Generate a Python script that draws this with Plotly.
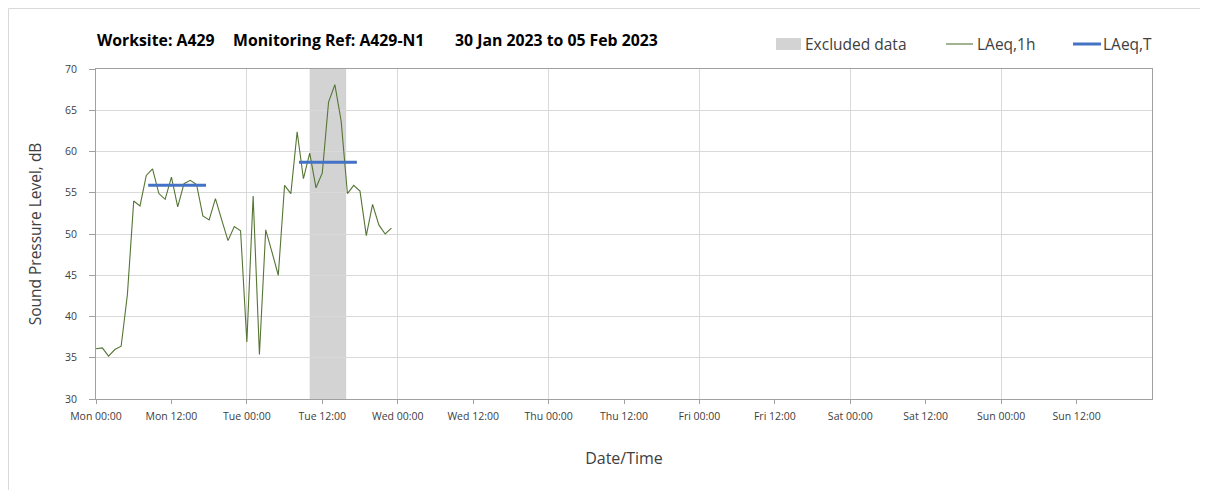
import plotly.graph_objects as go

# ---- data ----
hours = list(range(48))  # hours since Mon 30 Jan 2023 00:00
laeq_1h = [36.1, 36.2, 35.2, 36.0, 36.4, 42.7, 54.0, 53.4, 57.1, 57.9,
           54.9, 54.2, 56.9, 53.3, 56.1, 56.5, 56.0, 52.2, 51.7, 54.3,
           51.7, 49.2, 50.9, 50.4, 36.9, 54.6, 35.4, 50.5, 47.8, 45.0,
           55.9, 54.9, 62.4, 56.7, 59.8, 55.6, 57.4, 66.0, 68.1, 63.7,
           54.9, 55.9, 55.2, 49.8, 53.6, 51.1, 50.0, 50.7]

laeq_t_start = [8.3, 32.3]
laeq_t_end = [17.5, 41.5]
laeq_t_value = [55.9, 58.7]

excluded_start = [34.0]
excluded_end = [39.8]

tick_hours = [0, 12, 24, 36, 48, 60, 72, 84, 96, 108, 120, 132, 144, 156]
tick_labels = ["Mon 00:00", "Mon 12:00", "Tue 00:00", "Tue 12:00", "Wed 00:00",
               "Wed 12:00", "Thu 00:00", "Thu 12:00", "Fri 00:00", "Fri 12:00",
               "Sat 00:00", "Sat 12:00", "Sun 00:00", "Sun 12:00"]
grid_hours = [24, 48, 72, 96, 120, 144]

FONT = "Open Sans"
OFF = 8  # page body margin
W, H = 1208, 490
# plot area in screen pixels: left 96, right 1152, top 69, bottom 399
ML = 96 - OFF
MT = 69 - OFF
MR = W - (1152 - OFF)
MB = H - (399 - OFF)
PW, PH = W - ML - MR, H - MT - MB

def px_x(p):
    return (p - OFF - ML) / PW

def px_y(p):
    return (H - MB - (p - OFF)) / PH

fig = go.Figure()

shapes = []
for s, e in zip(excluded_start, excluded_end):
    shapes.append(dict(type="rect", xref="x", yref="y", x0=s, x1=e, y0=30, y1=70,
                       fillcolor="#d3d3d3", line=dict(width=0), layer="below"))

fig.add_trace(go.Scatter(x=hours, y=laeq_1h, mode="lines", name="LAeq,1h",
                         line=dict(color="#557534", width=1.1), showlegend=False))

for s, e, v in zip(laeq_t_start, laeq_t_end, laeq_t_value):
    fig.add_trace(go.Scatter(x=[s, e], y=[v, v], mode="lines", name="LAeq,T",
                             line=dict(color="#4472c4", width=3), showlegend=False))

# outer border: top and left edges only (others fall outside the window)
shapes.append(dict(type="line", xref="paper", yref="paper",
                   x0=px_x(OFF + 0.5), x1=px_x(1400), y0=px_y(OFF + 0.5), y1=px_y(OFF + 0.5),
                   line=dict(color="#d9d9d9", width=1)))
shapes.append(dict(type="line", xref="paper", yref="paper",
                   x0=px_x(OFF + 0.5), x1=px_x(OFF + 0.5), y0=px_y(OFF + 0.5), y1=px_y(600),
                   line=dict(color="#d9d9d9", width=1)))

# manual legend
ly = px_y(44)
shapes.append(dict(type="rect", xref="paper", yref="paper",
                   x0=px_x(776), x1=px_x(801), y0=px_y(50), y1=px_y(38),
                   fillcolor="#d3d3d3", line=dict(width=0)))
shapes.append(dict(type="line", xref="paper", yref="paper",
                   x0=px_x(946), x1=px_x(973), y0=ly, y1=ly,
                   line=dict(color="#557534", width=1.1)))
shapes.append(dict(type="line", xref="paper", yref="paper",
                   x0=px_x(1073), x1=px_x(1101), y0=ly, y1=ly,
                   line=dict(color="#4472c4", width=3)))

annotations = []
for txt, x in [("Excluded data", 803), ("LAeq,1h", 975), ("LAeq,T", 1101)]:
    annotations.append(dict(text=txt, xref="paper", yref="paper", x=px_x(x), y=ly,
                            xanchor="left", yanchor="middle", showarrow=False,
                            font=dict(family=FONT, size=15.5, color="#404040")))
for txt, x in [("Worksite: A429", 95), ("Monitoring Ref: A429-N1", 231),
               ("30 Jan 2023 to 05 Feb 2023", 453)]:
    annotations.append(dict(text="<b>" + txt + "</b>", xref="paper", yref="paper",
                            x=px_x(x), y=px_y(40), xanchor="left", yanchor="middle",
                            showarrow=False,
                            font=dict(family=FONT, size=15.8, color="#000000")))

fig.update_layout(
    width=W, height=H,
    margin=dict(l=ML, r=MR, t=MT, b=MB),
    paper_bgcolor="white", plot_bgcolor="white",
    shapes=shapes, annotations=annotations,
    font=dict(family=FONT, size=11, color="#404040"),
    xaxis=dict(range=[0, 168], tickmode="array", tickvals=tick_hours, ticktext=tick_labels,
               showgrid=False, zeroline=False, showline=True, linecolor="#a0a0a0",
               mirror=True, ticks="outside", ticklen=4, tickcolor="#a0a0a0",
               ticklabelstandoff=3,
               tickfont=dict(family=FONT, size=10.5, color="#404040"),
               minor=dict(tickmode="array", tickvals=grid_hours, showgrid=True,
                          gridcolor="#d9d9d9", gridwidth=1, ticklen=0),
               title=dict(text="Date/Time", standoff=31,
                          font=dict(family=FONT, size=16, color="#404040"))),
    yaxis=dict(range=[30, 70], dtick=5, showgrid=True, gridcolor="#d9d9d9",
               zeroline=False, showline=True, linecolor="#a0a0a0", mirror=True,
               ticks="outside", ticklen=6, tickcolor="#a0a0a0",
               ticklabelstandoff=10,
               tickfont=dict(family=FONT, size=10.5, color="#404040"),
               title=dict(text="Sound Pressure Level, dB", standoff=19,
                          font=dict(family=FONT, size=15.5, color="#404040"))),
)

fig.write_html("out.html")
